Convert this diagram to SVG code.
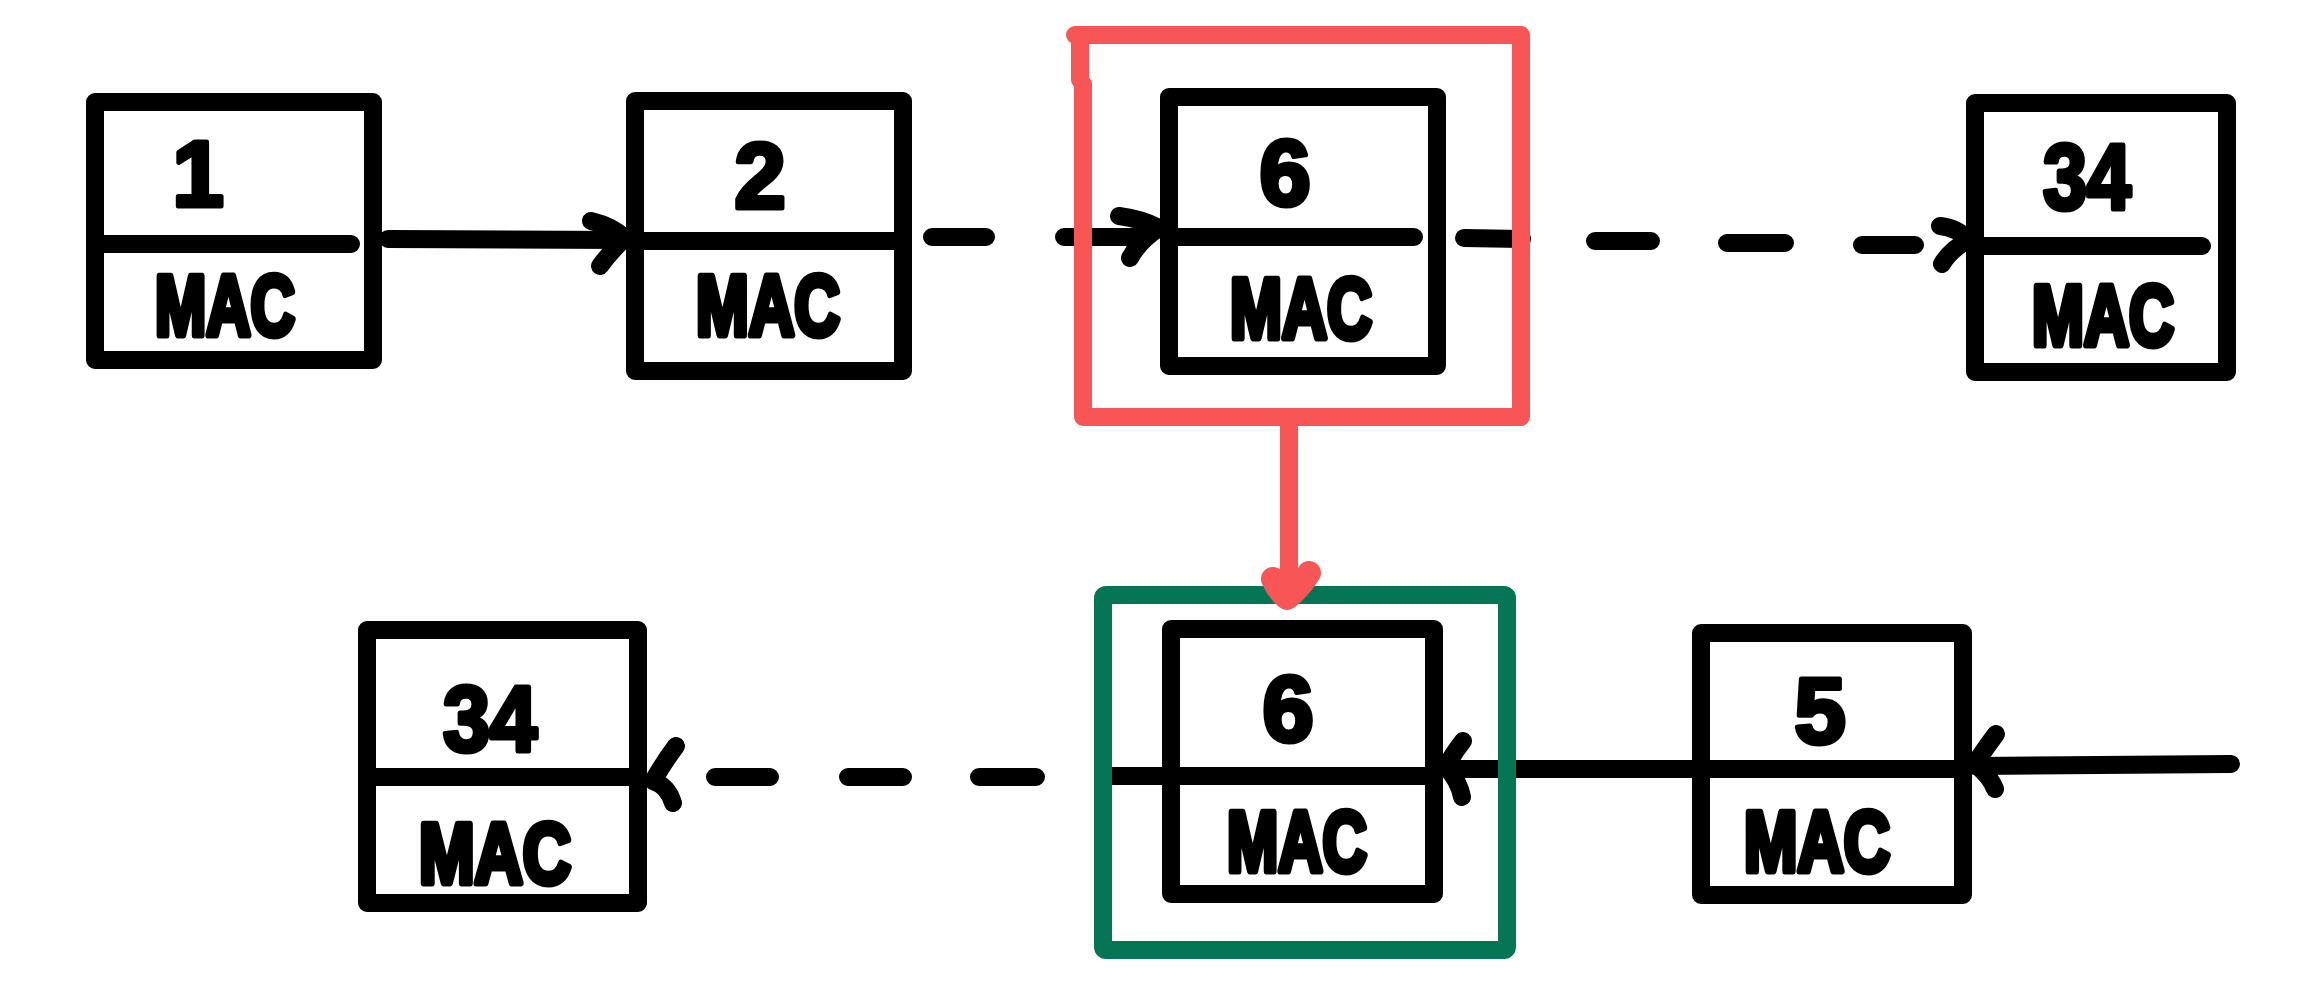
<svg xmlns="http://www.w3.org/2000/svg" width="2299" height="1000" viewBox="0 0 2299 1000">
<style>
.box{fill:none;stroke:#000;stroke-width:18;stroke-linejoin:round;stroke-linecap:round}
.ln{fill:none;stroke:#000;stroke-width:18;stroke-linecap:round;stroke-linejoin:round}
.red{fill:none;stroke:#f85656;stroke-width:18;stroke-linecap:round;stroke-linejoin:round}
.grn{fill:none;stroke:#067556;stroke-width:18;stroke-linejoin:round}
.num{font-family:"Liberation Sans",Arial,sans-serif;font-weight:bold;font-size:92px;text-anchor:middle;fill:#000;stroke:#000;stroke-width:5;stroke-linejoin:round}
.mac{font-family:"Liberation Sans",Arial,sans-serif;font-weight:bold;font-size:86px;text-anchor:middle;fill:#000;stroke:#000;stroke-width:7;stroke-linejoin:round}
</style>
<rect width="2299" height="1000" fill="#fff"/>

<g id="node-1">
<rect class="box" x="95" y="102" width="278" height="258"/>
<path class="ln" d="M95,244 L351,244"/>
<text class="num" x="198" y="206">1</text>
<text class="mac" x="225" y="335" textLength="140" lengthAdjust="spacingAndGlyphs">MAC</text>
</g>

<g id="node-2">
<rect class="box" x="635" y="101" width="268" height="270"/>
<path class="ln" d="M635,241 L903,241"/>
<text class="num" x="760" y="208">2</text>
<text class="mac" x="768" y="335" textLength="144" lengthAdjust="spacingAndGlyphs">MAC</text>
</g>

<g id="node-6-top">
<rect class="box" x="1169" y="97" width="268" height="269"/>
<path class="ln" d="M1169,237 L1414,237"/>
<text class="num" x="1285" y="205">6</text>
<text class="mac" x="1301" y="338" textLength="142" lengthAdjust="spacingAndGlyphs">MAC</text>
</g>

<g id="node-34-top">
<rect class="box" x="1975" y="103" width="252" height="269"/>
<path class="ln" d="M1975,246 L2202,246"/>
<text class="num" x="2087" y="209" textLength="88" lengthAdjust="spacingAndGlyphs">34</text>
<text class="mac" x="2103" y="345" textLength="142" lengthAdjust="spacingAndGlyphs">MAC</text>
</g>

<g id="node-34-bottom">
<rect class="box" x="367" y="630" width="271" height="273"/>
<path class="ln" d="M367,777 L638,777"/>
<text class="num" x="490" y="751" textLength="94" lengthAdjust="spacingAndGlyphs">34</text>
<text class="mac" x="495" y="883" textLength="152" lengthAdjust="spacingAndGlyphs">MAC</text>
</g>

<g id="node-6-bottom">
<rect class="box" x="1171" y="629" width="263" height="265"/>
<path class="ln" d="M1171,776 L1434,776"/>
<text class="num" x="1288" y="741">6</text>
<text class="mac" x="1297" y="871" textLength="140" lengthAdjust="spacingAndGlyphs">MAC</text>
</g>

<g id="node-5">
<rect class="box" x="1701" y="633" width="262" height="262"/>
<path class="ln" d="M1701,769 L1963,769"/>
<text class="num" x="1820" y="743">5</text>
<text class="mac" x="1817" y="871" textLength="146" lengthAdjust="spacingAndGlyphs">MAC</text>
</g>

<g id="connectors">
<!-- 1 -> 2 -->
<path class="ln" d="M388,239 L624,240"/>
<path class="ln" d="M591,221 Q612,226 625,238 Q610,252 600,266"/>
<!-- 2 -> 6 (dashed) -->
<path class="ln" d="M932,237 L986,237 M1064,237 L1142,237"/>
<path class="ln" d="M1119,216 Q1142,219 1159,228 Q1139,241 1130,258"/>
<!-- 6 -> 34 top (dashed) -->
<path class="ln" d="M1464,238 L1522,239 M1595,241 L1651,241 M1727,243 L1785,243 M1862,245 L1915,245"/>
<path class="ln" d="M1940,226 Q1958,228 1968,240 Q1950,250 1942,264"/>
<!-- 6 bottom -> 34 bottom (dashed) -->
<path class="ln" d="M1165,776 L1112,776 M1036,777 L979,777 M903,777 L848,777 M770,777 L715,777"/>
<path class="ln" d="M676,746 Q664,762 653,781 Q668,786 673,803"/>
<!-- incoming -> 5 -->
<path class="ln" d="M2231,764 L1976,766"/>
<path class="ln" d="M1996,734 Q1984,750 1975,764 Q1990,776 1995,789"/>
<!-- 5 -> 6 bottom -->
<path class="ln" d="M1701,769 L1450,769"/>
<path class="ln" d="M1463,741 Q1452,755 1446,767 Q1459,781 1462,797"/>
</g>

<g id="selection-red">
<path class="red" d="M1075,35 L1521,35 L1521,417 L1083,417 L1083,84 M1080,35 L1080,80"/>
</g>

<g id="selection-green">
<rect class="grn" x="1103" y="595" width="404" height="355" rx="3"/>
</g>

<g id="red-arrow">
<path class="red" d="M1289,427 L1289,592"/>
<path class="red" style="stroke-width:24" d="M1273,579 Q1279,592 1287,598 Q1299,589 1309,573"/>
</g>
</svg>
